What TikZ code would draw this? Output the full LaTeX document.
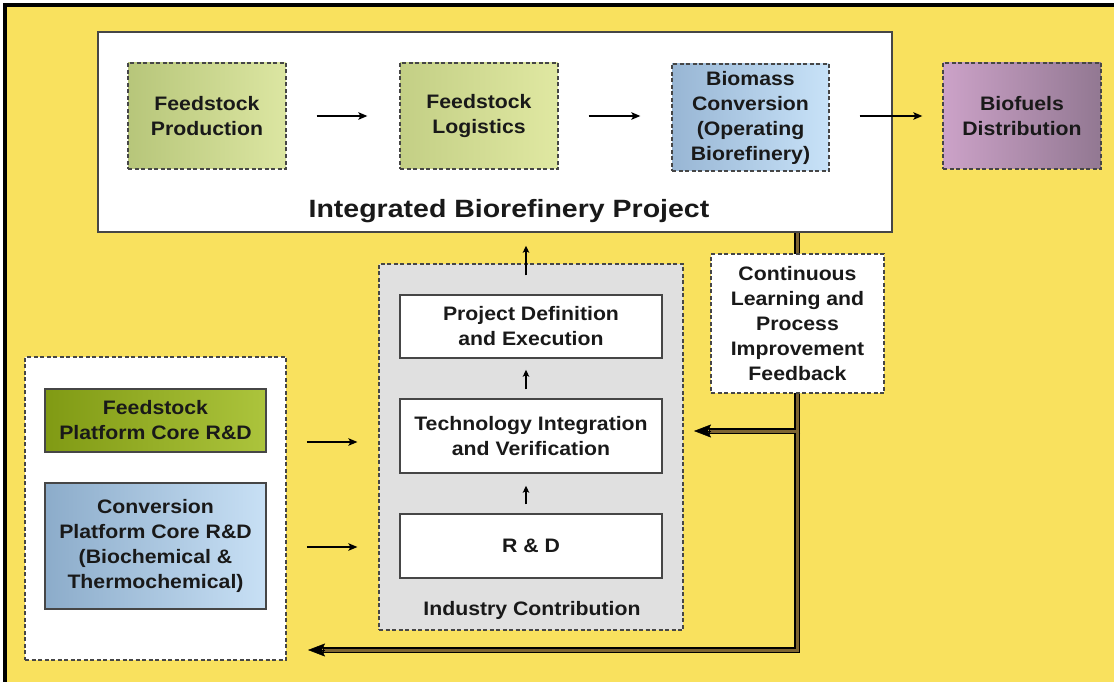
\documentclass[tikz,border=0pt]{standalone}
\usepackage{fontspec}
\setmainfont{Liberation Sans}[FakeStretch=1.09]
\newfontfamily\titlefont{Liberation Sans}[FakeStretch=1.14]
\usetikzlibrary{arrows.meta}
\definecolor{bgyellow}{RGB}{249,225,94}
\definecolor{txt}{RGB}{25,25,25}
\definecolor{edge}{RGB}{70,70,70}
\definecolor{fpL}{RGB}{183,198,122}
\definecolor{fpR}{RGB}{220,230,162}
\definecolor{flL}{RGB}{195,207,133}
\definecolor{flR}{RGB}{224,232,162}
\definecolor{bcL}{RGB}{152,182,212}
\definecolor{bcR}{RGB}{200,226,248}
\definecolor{bdL}{RGB}{204,162,200}
\definecolor{bdR}{RGB}{146,120,146}
\definecolor{gpL}{RGB}{128,154,20}
\definecolor{gpR}{RGB}{172,196,60}
\definecolor{cpL}{RGB}{140,172,202}
\definecolor{cpR}{RGB}{200,224,245}
\definecolor{indgray}{RGB}{224,224,224}
\definecolor{fbbrown}{RGB}{125,100,50}
\tikzset{
  boxtext/.style={font=\bfseries\fontsize{19.5}{25}\selectfont, text=txt, align=center, inner sep=0pt},
  dashbox/.style={boxtext, draw=edge, line width=1.3pt, dash pattern=on 4pt off 2.5pt},
  solidbox/.style={boxtext, draw=edge, line width=1.5pt},
  arr/.style={line width=1.5pt, -{Stealth[length=9pt,width=7.5pt,inset=2pt]}},
  uparr/.style={line width=1.4pt, -{Stealth[length=7pt,width=6.5pt,inset=1.5pt]}},
  fbouter/.style={line width=6pt, black, line join=miter},
  fbinner/.style={line width=3pt, fbbrown, line join=miter},
  fbtip/.style={-{Stealth[length=17pt,width=13pt,inset=3pt,line width=0.5pt]}}
}
\begin{document}
\begin{tikzpicture}[x=1pt,y=-1pt]
\useasboundingbox (0,0) rectangle (1114,682);
\fill[white] (0,0) rectangle (1114,682);
\fill[bgyellow] (3,3) rectangle (1114,682);
\draw[line width=3.5pt, black] (5,682) -- (5,5) -- (1114,5);

% Integrated Biorefinery Project box
\node[draw=edge, line width=1.5pt, fill=white, minimum width=794pt, minimum height=200pt, inner sep=0pt] (big) at (495,132) {};
\node[anchor=base, font=\titlefont\bfseries\fontsize{25}{30}\selectfont, text=txt, inner sep=0pt] (title) at (509,217) {Integrated Biorefinery Project};

\node[dashbox, left color=fpL, right color=fpR, minimum width=158pt, minimum height=106pt] (fp) at (207,116) {Feedstock\\Production};
\node[dashbox, left color=flL, right color=flR, minimum width=158pt, minimum height=106pt] (fl) at (479,116) {Feedstock\\Logistics};
\node[dashbox, left color=bcL, right color=bcR, minimum width=157pt, minimum height=107pt] (bc) at (750.5,117.5) {Biomass\\Conversion\\(Operating\\Biorefinery)};
\node[dashbox, left color=bdL, right color=bdR, minimum width=158pt, minimum height=106pt] (bd) at (1022,116) {Biofuels\\Distribution};

\draw[arr] ([xshift=30pt]fp.east) -- ([xshift=-32pt]fl.west);
\draw[arr] ([xshift=30pt]fl.east) -- ([xshift=-31pt]bc.west |- fl.east);
\draw[arr] ([xshift=30pt]bc.east |- bd.east) -- ([xshift=-20pt]bd.west);

% Industry contribution
\node[draw=edge, line width=1.2pt, dash pattern=on 4pt off 2.5pt, fill=indgray, minimum width=304pt, minimum height=366pt, inner sep=0pt] (ind) at (531,447) {};
\node[solidbox, fill=white, minimum width=262pt, minimum height=63pt] (pd) at (531,326.5) {Project Definition\\and Execution};
\node[solidbox, fill=white, minimum width=262pt, minimum height=74pt] (ti) at (531,436) {Technology Integration\\and Verification};
\node[solidbox, fill=white, minimum width=262pt, minimum height=64pt] (rd) at (531,546) {R \& D};
\node[anchor=base, boxtext] (indlab) at (532,615) {Industry Contribution};

\draw[uparr] ([xshift=-5pt,yshift=-12pt]ind.north) -- ([xshift=-5pt,yshift=-13pt]ind.north |- big.south);
\draw[uparr] ([xshift=-5pt,yshift=9pt]ti.north) -- ([xshift=-5pt,yshift=-11pt]pd.south);
\draw[uparr] ([xshift=-5pt,yshift=9pt]rd.north) -- ([xshift=-5pt,yshift=-12pt]ti.south);

% Left platform box
\node[draw=edge, line width=1.2pt, dash pattern=on 4pt off 2.5pt, fill=white, minimum width=261pt, minimum height=303pt, inner sep=0pt] (left) at (155.5,508.5) {};
\node[solidbox, left color=gpL, right color=gpR, minimum width=221pt, minimum height=63pt] (gp) at (155.5,420.5) {Feedstock\\Platform Core R\&D};
\node[solidbox, left color=cpL, right color=cpR, minimum width=221pt, minimum height=126pt] (cp) at (155.5,546) {Conversion\\Platform Core R\&D\\(Biochemical \&\\Thermochemical)};

\draw[arr] ([xshift=40pt,yshift=-21.5pt]gp.east) -- ([xshift=-21pt,yshift=-21.5pt]gp.east -| ind.west);
\draw[arr] ([xshift=40pt,yshift=-1pt]cp.east) -- ([xshift=-21pt,yshift=-1pt]cp.east -| ind.west);

% Feedback double connector
\coordinate (fbtop) at (797,232);
\coordinate (fbcorner) at (797,650);
\coordinate (fbbranch) at (797,431);
\coordinate (fbleft) at (308,650);
\coordinate (fbind) at (694,431);
\draw[fbouter] (big.south -| fbtop) -- (fbcorner) -- ([xshift=15pt]fbleft);
\draw[fbouter] ([xshift=3pt]fbbranch) -- ([xshift=15pt]fbind);
\draw[fbinner] (big.south -| fbtop) -- (fbcorner) -- ([xshift=16pt]fbleft);
\draw[fbinner] (fbbranch) -- ([xshift=16pt]fbind);
\draw[fbtip, black] ([xshift=17pt]fbleft) -- (fbleft);
\draw[fbtip, black] ([xshift=17pt]fbind) -- (fbind);

% Continuous learning box
\node[dashbox, fill=white, minimum width=173pt, minimum height=139pt] (cl) at (797.5,323.5) {Continuous\\Learning and\\Process\\Improvement\\Feedback};
\end{tikzpicture}
\end{document}
